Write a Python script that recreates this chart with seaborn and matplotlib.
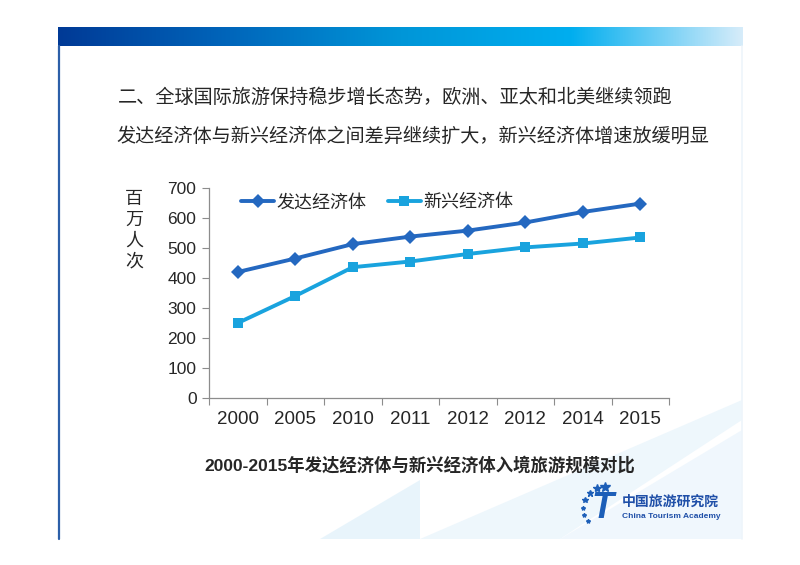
import numpy as np
import pandas as pd
import matplotlib
matplotlib.use("Agg")
import matplotlib.pyplot as plt
import seaborn as sns
from matplotlib.colors import LinearSegmentedColormap
from matplotlib.patches import Polygon

# Data
years = ['2000', '2005', '2010', '2011', '2012', '2012', '2014', '2015']
developed = [420, 465, 513, 538, 558, 585, 620, 648]
emerging = [250, 340, 436, 455, 480, 502, 515, 535]
series_names = ['发达经济体', '新兴经济体']

sns.set_theme(style="white")
plt.rcParams['font.family'] = ['Liberation Sans', 'Noto Sans CJK SC', 'DejaVu Sans']
cjk = ['Noto Sans CJK SC', 'DejaVu Sans']

df = pd.DataFrame({
    'pos': list(range(len(years))) * 2,
    'value': developed + emerging,
    'series': [series_names[0]] * len(years) + [series_names[1]] * len(years),
})

fig = plt.figure(figsize=(8, 5.65), dpi=100)
W, H = 800, 565

# slide decorations (pixel coords)
bg = fig.add_axes([0, 0, 1, 1], zorder=-5)
bg.set_xlim(0, W)
bg.set_ylim(H, 0)
bg.axis('off')
grad = LinearSegmentedColormap.from_list(
    'bar', ['#003a96', '#0066bb', '#0096d8', '#00aeef', '#d6ecfa'], N=256)
bg.imshow(np.linspace(0, 1, 256)[None, :], cmap=grad, aspect='auto',
          extent=[58, 743, 46, 27])
bg.plot([58.5, 58.5], [46, 539], color='#2c5fa8', lw=1.6)
bg.plot([742, 742], [46, 539], color='#eef5fb', lw=1.2)
# faint swooshes bottom right
bg.add_patch(Polygon([[320, 539], [420, 539], [420, 480]],
                     closed=True, color='#e3f2fb', alpha=0.8, lw=0))
bg.add_patch(Polygon([[420, 539], [560, 539], [742, 420], [742, 400]],
                     closed=True, color='#eaf5fc', alpha=0.8, lw=0))
bg.add_patch(Polygon([[560, 539], [742, 539], [742, 430]],
                     closed=True, color='#edf6fd', alpha=0.8, lw=0))

# headings
fig.text(118 / W, 1 - 97 / H, '二、全球国际旅游保持稳步增长态势，欧洲、亚太和北美继续领跑',
         fontsize=13.8, family=cjk, fontweight='medium', va='center', ha='left')
fig.text(116 / W, 1 - 136 / H, '发达经济体与新兴经济体之间差异继续扩大，新兴经济体增速放缓明显',
         fontsize=13.8, family=cjk, fontweight='medium', va='center', ha='left')

# chart
ax = fig.add_axes([209 / W, 1 - 398 / H, 460 / W, 210 / H])
ax.patch.set_alpha(0)
palette = {series_names[0]: '#2468c0', series_names[1]: '#19a3de'}
sns.lineplot(data=df, x='pos', y='value', hue='series', style='series',
             palette=palette, markers={series_names[0]: 'D', series_names[1]: 's'},
             dashes=False, linewidth=2.8, markersize=7, markeredgewidth=0,
             ax=ax, legend=True)

ax.set_xlim(-0.5, len(years) - 0.5)
ax.set_ylim(0, 700)
ax.set_yticks(range(0, 701, 100))
ax.set_xticks(range(len(years)))
ax.set_xticklabels(years, fontsize=13.5)
ax.set_xticks(np.arange(-0.5, len(years), 1), minor=True)
ax.tick_params(axis='x', which='major', length=0, pad=9)
ax.tick_params(axis='x', which='minor', length=5, width=0.8, color='#8c8c8c', direction='out', bottom=True)
ax.tick_params(axis='y', length=5, width=0.8, color='#8c8c8c', direction='out', left=True, labelsize=12.5, pad=4)
ax.set_xlabel('')
ax.set_ylabel('')
for s in ['top', 'right']:
    ax.spines[s].set_visible(False)
for s in ['left', 'bottom']:
    ax.spines[s].set_color('#8c8c8c')
    ax.spines[s].set_linewidth(0.9)

handles, labels = ax.get_legend_handles_labels()
leg = ax.legend(handles, labels, loc='upper left', ncol=2, frameon=False,
                bbox_to_anchor=(0.035, 1.05), handlelength=1.8, handletextpad=0.15,
                columnspacing=1.2, prop={'family': cjk, 'size': 13})

# vertical y label
fig.text(134 / W, 1 - 230 / H, '\n'.join('百万人次'), family=cjk, fontsize=13,
         ha='center', va='center', linespacing=1.2)

# caption
fig.text(420 / W, 1 - 465 / H, '2000-2015年发达经济体与新兴经济体入境旅游规模对比',
         family=['Liberation Sans', 'Noto Sans CJK SC'], fontsize=12.5, fontweight='bold',
         ha='center', va='center')

# logo
fig.text(622 / W, 1 - 502 / H, '中国旅游研究院', family=cjk, fontsize=10,
         fontweight='bold', color='#1f4fa8', ha='left', va='center')
fig.text(622 / W, 1 - 516 / H, 'China Tourism Academy', fontsize=6,
         fontweight='bold', color='#1f4fa8', ha='left', va='center')
fig.text(603 / W, 1 - 508 / H, 'T', fontsize=26, fontweight='bold', style='italic',
         color='#1d5fb8', ha='center', va='center')
for (sx, sy, ss) in [(585, 500, 4), (590, 493, 5), (597, 488, 6), (605, 487, 7),
                     (583, 508, 3), (584, 515, 3), (588, 521, 3)]:
    bg.plot(sx, sy, marker='*', color='#1d5fb8', markersize=ss, lw=0)

fig.savefig('out.png', dpi=100)
